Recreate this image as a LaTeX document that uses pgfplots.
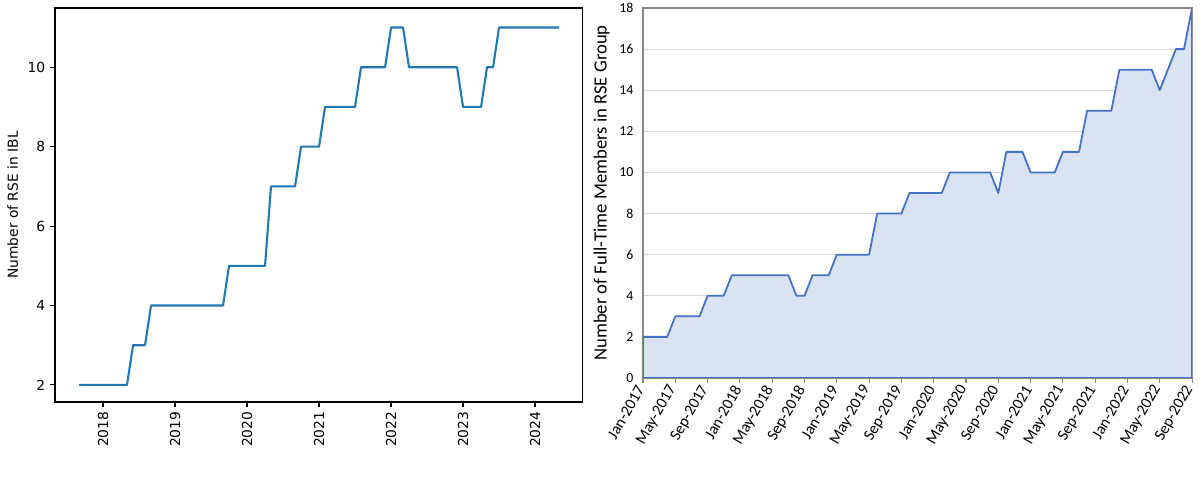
\documentclass[border=0pt]{standalone}
\usepackage{pgfplots}
\pgfplotsset{compat=1.18}
\usepackage{fontspec}
\setmainfont{DejaVu Sans}
\newfontfamily\carlito{Carlito}
\definecolor{mplblue}{HTML}{1F77B4}
\definecolor{xlblue}{HTML}{4472C4}
\definecolor{xlfill}{HTML}{DAE3F3}
\definecolor{xlgrid}{HTML}{D9D9D9}
\definecolor{xlaxis}{HTML}{868686}

\begin{document}
\begin{tikzpicture}
\useasboundingbox (0,0) rectangle (867.24pt,361.35pt);
% left: matplotlib style step line
\begin{axis}[
  at={(39.75pt,70.82pt)}, anchor=south west,
  width=380.9pt, height=284.7pt, scale only axis,
  xmin=2017.333, xmax=2024.653, ymin=1.57, ymax=11.49,
  xtick={2018,...,2024},
  xticklabels={2018,2019,2020,2021,2022,2023,2024},
  ytick={2,4,6,8,10},
  tick align=outside, tick pos=left, major tick length=3.5pt,
  axis line style={line width=0.8pt},
  every tick/.style={black, line width=0.8pt},
  xticklabel style={rotate=90, anchor=east},
  font=\fontsize{10}{12}\selectfont,
  ylabel={Number of RSE in IBL},
  /pgf/number format/assume math mode=true,
]
\addplot[mplblue, line width=1.5pt, line join=round] coordinates {
(2017.667,2) (2018.333,2) (2018.417,3) (2018.583,3) (2018.667,4)
(2019.667,4) (2019.750,5) (2020.250,5) (2020.333,7) (2020.667,7)
(2020.750,8) (2021.000,8) (2021.083,9) (2021.500,9) (2021.583,10)
(2021.917,10) (2022.000,11) (2022.167,11) (2022.250,10) (2022.917,10)
(2023.000,9) (2023.250,9) (2023.333,10) (2023.417,10) (2023.500,11)
(2024.333,11)
};
\end{axis}
% right: excel style area chart, monthly
\begin{axis}[
  at={(464.7pt,88.17pt)}, anchor=south west,
  width=396.8pt, height=267.4pt, scale only axis,
  xmin=0, xmax=68, ymin=0, ymax=18,
  xtick={0,4,...,68},
  xticklabels={Jan-2017,May-2017,Sep-2017,Jan-2018,May-2018,Sep-2018,Jan-2019,May-2019,Sep-2019,Jan-2020,May-2020,Sep-2020,Jan-2021,May-2021,Sep-2021,Jan-2022,May-2022,Sep-2022},
  ytick={0,2,...,18},
  ymajorgrids, grid style={xlgrid, line width=0.8pt},
  axis line style={xlaxis, line width=0.8pt},
  tick align=outside, tick pos=left, major tick length=3.5pt,
  xtick style={xlaxis, line width=0.8pt},
  ytick style={draw=none},
  font=\carlito\fontsize{10}{12}\selectfont,
  xticklabel style={rotate=60, anchor=east, font=\carlito\fontsize{11.5}{13}\selectfont},
  ylabel={Number of Full-Time Members in RSE Group},
  ylabel style={font=\carlito\fontsize{13.5}{16}\selectfont},
  /pgf/number format/assume math mode=true,
]
\addplot[draw=xlblue, line width=1.3pt, fill=xlfill, line join=round] coordinates {
(0,2) (1,2) (2,2) (3,2) (4,3) (5,3) (6,3) (7,3) (8,4) (9,4)
(10,4) (11,5) (12,5) (13,5) (14,5) (15,5) (16,5) (17,5) (18,5) (19,4)
(20,4) (21,5) (22,5) (23,5) (24,6) (25,6) (26,6) (27,6) (28,6) (29,8)
(30,8) (31,8) (32,8) (33,9) (34,9) (35,9) (36,9) (37,9) (38,10) (39,10)
(40,10) (41,10) (42,10) (43,10) (44,9) (45,11) (46,11) (47,11) (48,10) (49,10)
(50,10) (51,10) (52,11) (53,11) (54,11) (55,13) (56,13) (57,13) (58,13) (59,15)
(60,15) (61,15) (62,15) (63,15) (64,14) (65,15) (66,16) (67,16) (68,18)
} \closedcycle;
\end{axis}
\end{tikzpicture}
\end{document}
